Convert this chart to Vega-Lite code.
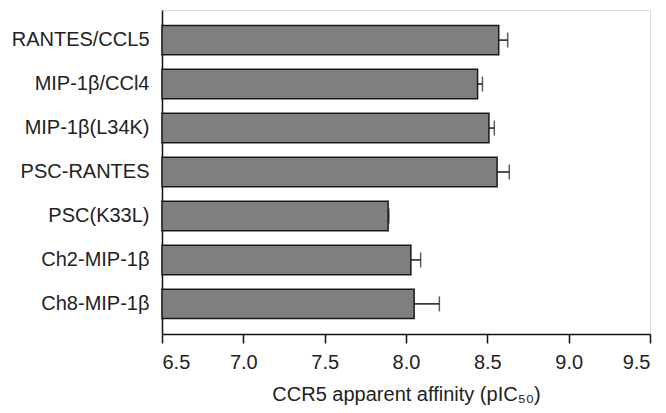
{
  "$schema": "https://vega.github.io/schema/vega-lite/v6.json",
  "width": 488,
  "height": 324,
  "autosize": {"type": "none"},
  "padding": {"left": 162, "top": 10, "right": 16, "bottom": 79},
  "background": "white",
  "data": {
    "values": [
      {"ligand": "RANTES/CCL5", "value": 8.57, "upper": 8.625},
      {"ligand": "MIP-1β/CCl4", "value": 8.44, "upper": 8.47},
      {"ligand": "MIP-1β(L34K)", "value": 8.51, "upper": 8.543},
      {"ligand": "PSC-RANTES", "value": 8.56, "upper": 8.635},
      {"ligand": "PSC(K33L)", "value": 7.89, "upper": 7.895},
      {"ligand": "Ch2-MIP-1β", "value": 8.03, "upper": 8.09},
      {"ligand": "Ch8-MIP-1β", "value": 8.05, "upper": 8.205}
    ]
  },
  "encoding": {
    "y": {
      "field": "ligand",
      "type": "nominal",
      "sort": null,
      "scale": {"paddingInner": 0.33, "paddingOuter": 0.35},
      "axis": {
        "title": null,
        "ticks": false,
        "domainColor": "#111",
        "domainWidth": 1.5,
        "labelFont": "Liberation Sans",
        "labelFontSize": 20,
        "labelColor": "#222",
        "labelPadding": 13
      }
    }
  },
  "layer": [
    {
      "mark": {"type": "bar", "fill": "#7f7f7f", "stroke": "#1a1a1a", "strokeWidth": 1.5},
      "encoding": {
        "x": {
          "field": "value",
          "type": "quantitative",
          "scale": {"domain": [6.5, 9.5], "zero": false, "nice": false},
          "axis": {
            "values": [6.5, 7.0, 7.5, 8.0, 8.5, 9.0, 9.5],
            "format": ".1f",
            "grid": false,
            "domainColor": "#111",
            "domainWidth": 1.5,
            "tickColor": "#111",
            "tickWidth": 1.5,
            "tickSize": 9,
            "labelFont": "Liberation Sans",
            "labelFontSize": 20,
            "labelColor": "#222",
            "labelPadding": 9,
            "title": "CCR5 apparent affinity (pIC₅₀)",
            "titleFont": "Liberation Sans",
            "titleFontSize": 20,
            "titleFontWeight": "normal",
            "titleColor": "#222",
            "titlePadding": 12
          }
        },
        "x2": {"datum": 6.5}
      }
    },
    {
      "mark": {"type": "rule", "color": "#1a1a1a", "strokeWidth": 1.5},
      "encoding": {
        "x": {"field": "value", "type": "quantitative"},
        "x2": {"field": "upper"}
      }
    },
    {
      "mark": {"type": "tick", "orient": "vertical", "color": "#1a1a1a", "thickness": 1.5, "size": 15},
      "encoding": {
        "x": {"field": "upper", "type": "quantitative"}
      }
    }
  ]
}
